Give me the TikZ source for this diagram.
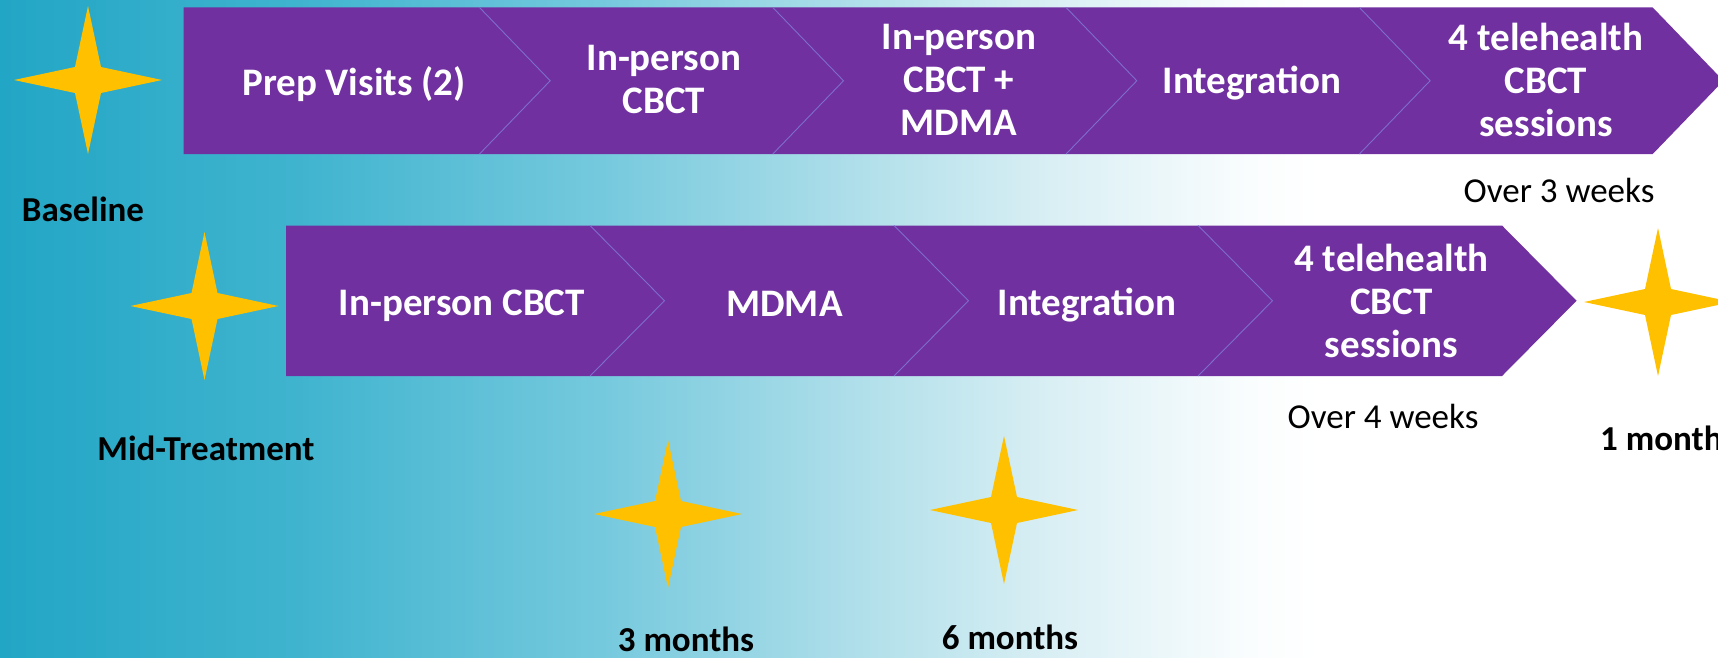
\documentclass[tikz,border=0pt]{standalone}
\usepackage{fontspec}
\setmainfont{Carlito}

\definecolor{barpurple}{HTML}{7030A0}
\definecolor{seamline}{HTML}{7E6CCF}
\definecolor{gold}{HTML}{FFC000}
\definecolor{bgA}{RGB}{34,166,197}
\definecolor{bgB}{RGB}{64,180,207}
\definecolor{bgC}{RGB}{117,201,221}
\definecolor{bgD}{RGB}{176,223,234}
\definecolor{bgE}{RGB}{217,239,244}
\definecolor{bgF}{RGB}{250,253,254}

\tikzset{
  bar/.style={fill=barpurple, draw=none},
  seam/.style={draw=seamline, line width=0.9pt},
  steptext/.style={text=white, font=\fontsize{39}{43}\selectfont\bfseries, align=center, inner sep=0pt},
  milestone/.style={text=black, font=\fontsize{35}{40}\selectfont\bfseries, inner sep=0pt},
  duration/.style={text=black, font=\fontsize{35}{40}\selectfont, inner sep=0pt},
  sparkle/.pic={
    \fill[gold] (0,-74) -- (13,-13) -- (74,0) -- (13,13) -- (0,74)
      -- (-13,13) -- (-74,0) -- (-13,-13) -- cycle;
  }
}

\begin{document}
\begin{tikzpicture}[x=1pt, y=-1pt]
  \clip (0,0) rectangle (1718,658);

  % background: teal fading to white
  \fill[white] (0,0) rectangle (1718,658);
  \shade[left color=bgA, right color=bgB] (0,0) rectangle (300.5,658);
  \shade[left color=bgB, right color=bgC] (300,0) rectangle (600.5,658);
  \shade[left color=bgC, right color=bgD] (600,0) rectangle (860.5,658);
  \shade[left color=bgD, right color=bgE] (860,0) rectangle (1050.5,658);
  \shade[left color=bgE, right color=bgF] (1050,0) rectangle (1250.5,658);
  \shade[left color=bgF, right color=white] (1250,0) rectangle (1320,658);

  % first row of steps
  \fill[bar] (183.7,7.5) -- (1652.7,7.5) -- (1723.4,80.75) -- (1652.7,154)
    -- (183.7,154) -- cycle;
  \foreach \sx in {479.5,772.8,1066.1,1359.4}
    \draw[seam] (\sx,7.5) -- ({\sx+70.7},80.75) -- (\sx,154);

  % second row of steps
  \fill[bar] (286,225.5) -- (1502,225.5) -- (1576.5,300.75) -- (1502,376)
    -- (286,376) -- cycle;
  \foreach \sx in {590,894,1198}
    \draw[seam] (\sx,225.5) -- ({\sx+74.5},300.75) -- (\sx,376);

  % step labels, first row
  \node[steptext] (t1) at (354,84) {Prep Visits (2)};
  \node[steptext] (t2) at (664,79.5) {In-person\\CBCT};
  \node[steptext] (t3) at (959,79.5) {In-person\\CBCT +\\MDMA};
  \node[steptext] (t4) at (1252,83) {Integration};
  \node[steptext] (t5) at (1546,79.5) {4 telehealth\\CBCT\\sessions};

  % step labels, second row
  \node[steptext] (b1) at (462,305.5) {In-person CBCT};
  \node[steptext] (b2) at (784.5,304) {MDMA};
  \node[steptext] (b3) at (1087,305) {Integration};
  \node[steptext] (b4) at (1391.5,301) {4 telehealth\\CBCT\\sessions};

  % assessment points
  \pic at (88,80) {sparkle};
  \pic at (204.5,306) {sparkle};
  \pic at (1658,302) {sparkle};
  \pic at (668,514) {sparkle};
  \pic at (1004,510) {sparkle};

  \node[milestone] (baseline) at (83,209) {Baseline};
  \node[milestone] (mid) at (206,448) {Mid-Treatment};
  \node[milestone, anchor=west] (onemonth) at (1600,438) {1 month};
  \node[milestone] (three) at (686,639) {3 months};
  \node[milestone] (six) at (1010,637.5) {6 months};

  \node[duration] (wk3) at (1559,190) {Over 3 weeks};
  \node[duration] (wk4) at (1383,416) {Over 4 weeks};
\end{tikzpicture}
\end{document}
